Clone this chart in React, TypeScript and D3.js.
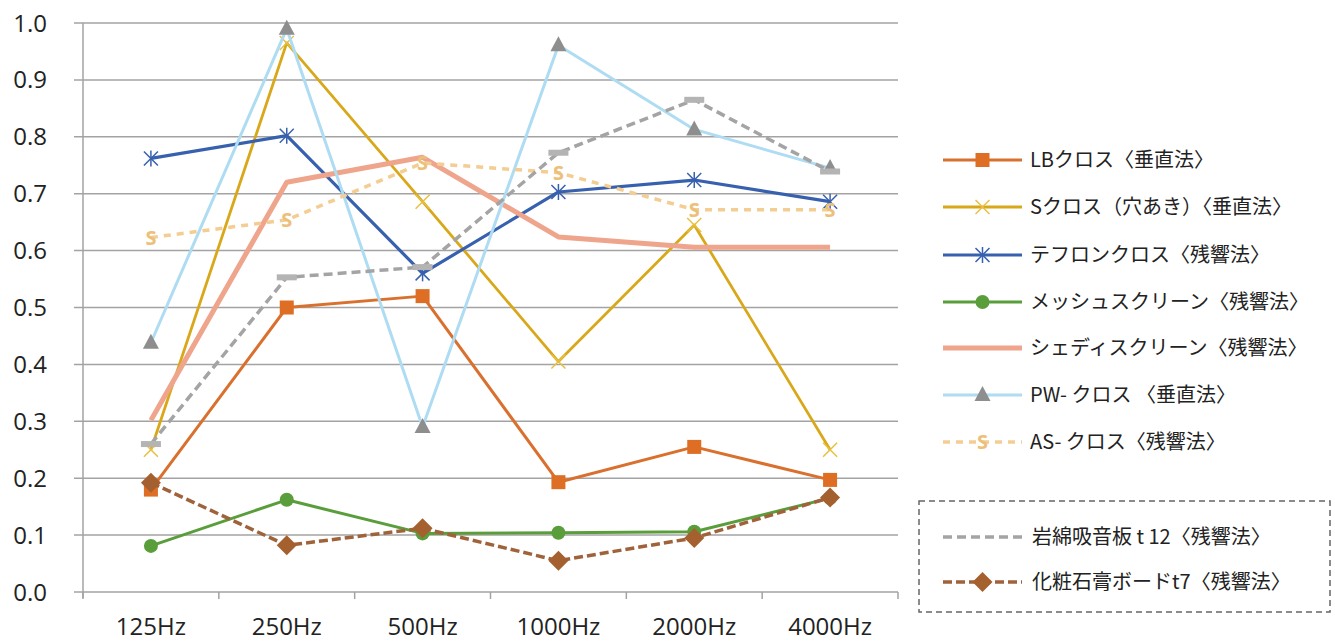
import React from "react";
import * as d3 from "d3";

const categories = ["125Hz", "250Hz", "500Hz", "1000Hz", "2000Hz", "4000Hz"];
const yTicks = [0, 0.1, 0.2, 0.3, 0.4, 0.5, 0.6, 0.7, 0.8, 0.9, 1.0];

const lbCross = [0.18, 0.5, 0.52, 0.193, 0.255, 0.197];
const sCross = [0.25, 0.965, 0.686, 0.405, 0.645, 0.25];
const teflon = [0.762, 0.802, 0.56, 0.703, 0.724, 0.686];
const mesh = [0.081, 0.162, 0.103, 0.104, 0.106, 0.165];
const shade = [0.302, 0.72, 0.764, 0.624, 0.606, 0.606];
const pwCross = [0.438, 0.99, 0.29, 0.961, 0.813, 0.745];
const asCross = [0.623, 0.654, 0.754, 0.737, 0.672, 0.672];
const rockWool = [0.26, 0.553, 0.571, 0.772, 0.865, 0.739];
const gypsum = [0.192, 0.082, 0.112, 0.055, 0.095, 0.166];

type Marker = "square" | "x" | "star" | "circle" | "none" | "triangle" | "s" | "dash" | "diamond";
interface Series {
  name: string;
  values: number[];
  color: string;
  width: number;
  dash?: string;
  marker: Marker;
  markerColor: string;
}

const mainSeries: Series[] = [
  { name: "LBクロス〈垂直法〉", values: lbCross, color: "#D9702E", width: 3, marker: "square", markerColor: "#DE6E24" },
  { name: "Sクロス（穴あき）〈垂直法〉", values: sCross, color: "#D9A81A", width: 2.8, marker: "x", markerColor: "#E8C040" },
  { name: "テフロンクロス〈残響法〉", values: teflon, color: "#3760AE", width: 3.2, marker: "star", markerColor: "#3760AE" },
  { name: "メッシュスクリーン〈残響法〉", values: mesh, color: "#5A9E3C", width: 3, marker: "circle", markerColor: "#5A9E3C" },
  { name: "シェディスクリーン〈残響法〉", values: shade, color: "#EFA48C", width: 5, marker: "none", markerColor: "#EFA48C" },
  { name: "PW- クロス 〈垂直法〉", values: pwCross, color: "#AEDCF2", width: 3, marker: "triangle", markerColor: "#8E8E8E" },
  { name: "AS- クロス〈残響法〉", values: asCross, color: "#F3CD92", width: 3.5, dash: "7,6", marker: "s", markerColor: "#EDC07A" },
];
const boxSeries: Series[] = [
  { name: "岩綿吸音板 t 12〈残響法〉", values: rockWool, color: "#A4A4A4", width: 3.5, dash: "9,5", marker: "dash", markerColor: "#B4B4B4" },
  { name: "化粧石膏ボードt7〈残響法〉", values: gypsum, color: "#A0623A", width: 3.5, dash: "9,4", marker: "diamond", markerColor: "#A5602F" },
];

const W = 1335;
const H = 641;
const left = 83;
const right = 898;
const top = 23;
const bottom = 592;

function MarkerShape({ m, x, y, color }: { m: Marker; x: number; y: number; color: string }) {
  switch (m) {
    case "square":
      return <rect x={x - 7} y={y - 7} width={14} height={14} fill={color} />;
    case "x":
      return (
        <g stroke={color} strokeWidth={1.5}>
          <line x1={x - 7} y1={y - 7} x2={x + 7} y2={y + 7} />
          <line x1={x - 7} y1={y + 7} x2={x + 7} y2={y - 7} />
        </g>
      );
    case "star":
      return (
        <g stroke={color} strokeWidth={1.5}>
          <line x1={x - 7} y1={y - 7} x2={x + 7} y2={y + 7} />
          <line x1={x - 7} y1={y + 7} x2={x + 7} y2={y - 7} />
          <line x1={x} y1={y - 8} x2={x} y2={y + 8} />
        </g>
      );
    case "circle":
      return <circle cx={x} cy={y} r={7} fill={color} />;
    case "triangle":
      return <path d={`M${x},${y - 9}L${x + 8},${y + 6}L${x - 8},${y + 6}Z`} fill={color} />;
    case "diamond":
      return <path d={`M${x},${y - 10}L${x + 10},${y}L${x},${y + 10}L${x - 10},${y}Z`} fill={color} />;
    case "dash":
      return <rect x={x - 10} y={y - 3} width={20} height={6} fill={color} />;
    case "s":
      return (
        <text x={x} y={y + 7} textAnchor="middle" fontFamily="Open Sans" fontWeight={700} fontSize={20} fill={color}>
          S
        </text>
      );
    default:
      return null;
  }
}

export default function App() {
  const x = d3.scaleBand<string>().domain(categories).range([left, right]);
  const y = d3.scaleLinear().domain([0, 1]).range([bottom, top]);
  const cx = (c: string) => (x(c) as number) + x.bandwidth() / 2;
  const line = d3
    .line<number>()
    .x((_, i) => cx(categories[i]))
    .y((d) => y(d));

  const drawOrder = [...mainSeries, ...boxSeries];
  const bandEdges = [...categories.map((c) => x(c) as number), right];

  const legendX1 = 943;
  const legendX2 = 1022;
  const legendRows = [160, 207, 255, 302, 348, 395, 442];
  const boxRows = [537, 582];

  return (
    <svg width={W} height={H} style={{ position: "absolute", left: 0, top: 0, background: "#fff" }}>
      <rect width={W} height={H} fill="#fff" />
      {yTicks.map((t) => (
        <line key={t} x1={74} x2={right} y1={y(t)} y2={y(t)} stroke="#A3A3A3" strokeWidth={1.5} />
      ))}
      <line x1={left} x2={left} y1={top} y2={bottom + 6} stroke="#A3A3A3" strokeWidth={1.5} />
      {bandEdges.map((e, i) => (
        <line key={i} x1={e} x2={e} y1={bottom} y2={bottom + 7} stroke="#A3A3A3" strokeWidth={1.5} />
      ))}
      {yTicks.map((t) => (
        <text key={t} x={47} y={y(t) + 8.5} textAnchor="end" fontFamily="Open Sans" fontSize={24} fill="#222">
          {t.toFixed(1)}
        </text>
      ))}
      {categories.map((c) => (
        <text key={c} x={cx(c)} y={635} textAnchor="middle" fontFamily="Open Sans" fontSize={24} fill="#222">
          {c}
        </text>
      ))}
      {drawOrder.map((s) => (
        <g key={s.name}>
          <path d={line(s.values) || ""} fill="none" stroke={s.color} strokeWidth={s.width} strokeDasharray={s.dash} strokeLinejoin="round" />
          {s.values.map((v, i) => (
            <MarkerShape key={i} m={s.marker} x={cx(categories[i])} y={y(v)} color={s.markerColor} />
          ))}
        </g>
      ))}
      {mainSeries.map((s, i) => (
        <g key={s.name}>
          <line x1={legendX1} x2={legendX2} y1={legendRows[i]} y2={legendRows[i]} stroke={s.color} strokeWidth={s.width} strokeDasharray={s.dash} />
          <MarkerShape m={s.marker} x={(legendX1 + legendX2) / 2} y={legendRows[i]} color={s.markerColor} />
          <text x={1030} y={legendRows[i] + 7} fontFamily="Noto Sans CJK JP" fontSize={20} fill="#222">
            {s.name}
          </text>
        </g>
      ))}
      <rect x={919} y={501} width={411} height={111} fill="none" stroke="#666" strokeWidth={1.5} strokeDasharray="6,4" />
      {boxSeries.map((s, i) => (
        <g key={s.name}>
          <line x1={legendX1} x2={legendX2} y1={boxRows[i]} y2={boxRows[i]} stroke={s.color} strokeWidth={s.width} strokeDasharray={s.dash} />
          {s.marker === "diamond" && <MarkerShape m={s.marker} x={(legendX1 + legendX2) / 2} y={boxRows[i]} color={s.markerColor} />}
          <text x={1032} y={boxRows[i] + 7} fontFamily="Noto Sans CJK JP" fontSize={20} fill="#222">
            {s.name}
          </text>
        </g>
      ))}
    </svg>
  );
}
